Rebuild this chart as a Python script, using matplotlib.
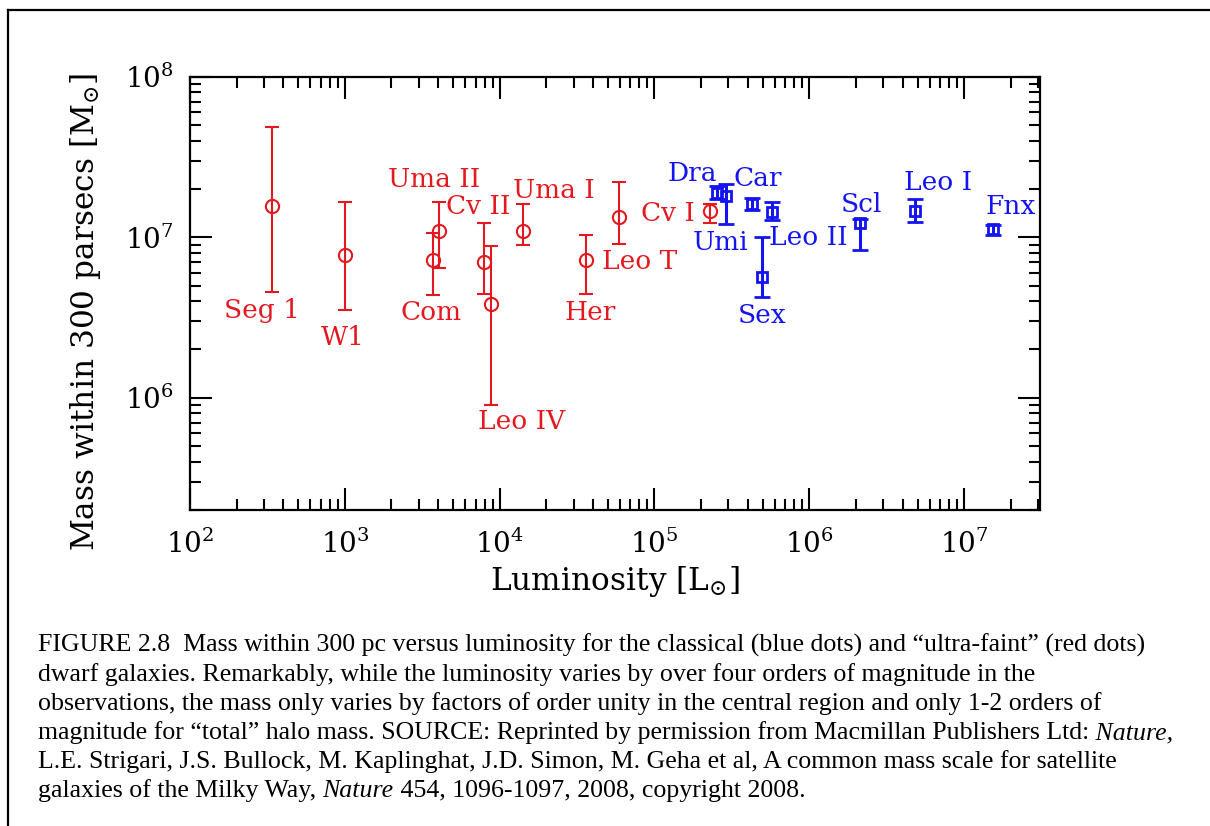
import numpy as np
import matplotlib
matplotlib.use('Agg')
import matplotlib.pyplot as plt
from matplotlib.lines import Line2D

plt.rcParams['font.family'] = 'DejaVu Serif'
plt.rcParams['mathtext.fontset'] = 'dejavuserif'

red = '#e3191f'
blue = '#1414f0'

# ultra-faint dwarfs (red circles)
uf_names = ['Seg 1', 'W1', 'Com', 'Uma II', 'Cv II', 'Leo IV', 'Uma I', 'Her', 'Leo T', 'Cv I']
uf_lum = [340, 1.0e3, 3.72e3, 4.05e3, 7.9e3, 8.73e3, 1.41e4, 3.59e4, 5.89e4, 2.28e5]
uf_mass = [1.57e7, 7.7e6, 7.17e6, 1.09e7, 6.98e6, 3.85e6, 1.10e7, 7.17e6, 1.34e7, 1.45e7]
uf_hi = [4.84e7, 1.65e7, 1.07e7, 1.65e7, 1.23e7, 8.88e6, 1.60e7, 1.04e7, 2.2e7, 1.62e7]
uf_lo = [4.54e6, 3.51e6, 4.38e6, 6.44e6, 4.46e6, 9.04e5, 8.9e6, 4.44e6, 9.14e6, 1.23e7]
uf_lab_x = [290, 966, 3.63e3, 3.78e3, 7.31e3, 1.39e4, 2.23e4, 3.86e4, 8.07e4, 1.22e5]
uf_lab_y = [3.5e6, 2.39e6, 3.38e6, 2.29e7, 1.56e7, 7.14e5, 1.95e7, 3.38e6, 7.08e6, 1.41e7]

# classical dwarfs (blue squares)
cl_names = ['Dra', 'Umi', 'Car', 'Sex', 'Leo II', 'Scl', 'Leo I', 'Fnx']
cl_lum = [2.55e5, 2.88e5, 4.24e5, 4.96e5, 5.77e5, 2.14e6, 4.79e6, 1.53e7]
cl_mass = [1.89e7, 1.80e7, 1.61e7, 5.66e6, 1.44e7, 1.23e7, 1.45e7, 1.12e7]
cl_hi = [2.08e7, 2.16e7, 1.76e7, 1.0e7, 1.66e7, 1.30e7, 1.72e7, 1.20e7]
cl_lo = [1.72e7, 1.21e7, 1.47e7, 4.26e6, 1.28e7, 8.3e6, 1.25e7, 1.03e7]
cl_lab_x = [1.76e5, 2.66e5, 4.63e5, 4.99e5, 9.9e5, 2.18e6, 6.81e6, 2.0e7]
cl_lab_y = [2.48e7, 9.31e6, 2.31e7, 3.25e6, 9.9e6, 1.60e7, 2.20e7, 1.56e7]

caption = [
    [('FIGURE 2.8  Mass within 300 pc versus luminosity for the classical (blue dots) and \u201cultra-faint\u201d (red dots)', 'normal')],
    [('dwarf galaxies. Remarkably, while the luminosity varies by over four orders of magnitude in the', 'normal')],
    [('observations, the mass only varies by factors of order unity in the central region and only 1-2 orders of', 'normal')],
    [('magnitude for \u201ctotal\u201d halo mass. SOURCE: Reprinted by permission from Macmillan Publishers Ltd:', 'normal'),
     (' Nature,', 'italic')],
    [('L.E. Strigari, J.S. Bullock, M. Kaplinghat, J.D. Simon, M. Geha et al, A common mass scale for satellite', 'normal')],
    [('galaxies of the Milky Way, ', 'normal'), ('Nature', 'italic'),
     (' 454, 1096-1097, 2008, copyright 2008.', 'normal')],
]

W, H = 1210, 826
fig = plt.figure(figsize=(W / 100, H / 100), dpi=100)
ax = fig.add_axes([190 / W, 1 - 510 / H, 850 / W, 433.3 / H])

ux = np.array(uf_lum)
uy = np.array(uf_mass)
ax.errorbar(ux, uy, yerr=[uy - np.array(uf_lo), np.array(uf_hi) - uy], fmt='o',
            mfc='none', mec=red, mew=1.5, ms=9.5, ecolor=red, elinewidth=1.5,
            capsize=5, capthick=1.5)

cx = np.array(cl_lum)
cy = np.array(cl_mass)
ax.errorbar(cx, cy, yerr=[cy - np.array(cl_lo), np.array(cl_hi) - cy], fmt='s',
            mfc='none', mec=blue, mew=2, ms=7, ecolor=blue, elinewidth=2.2,
            capsize=6, capthick=2.2)

for name, x, y in zip(uf_names, uf_lab_x, uf_lab_y):
    ax.text(x, y, name, color=red, fontsize=19, ha='center', va='center')
for name, x, y in zip(cl_names, cl_lab_x, cl_lab_y):
    ax.text(x, y, name, color=blue, fontsize=19, ha='center', va='center')

ax.set_xscale('log')
ax.set_yscale('log')
ax.set_xlim(1e2, 10 ** 7.49)
ax.set_ylim(2e5, 1e8)

for s in ax.spines.values():
    s.set_linewidth(1.6)
ax.tick_params(which='both', direction='in', top=True, right=True, width=1.5)
ax.tick_params(which='major', length=16, labelsize=20)
ax.tick_params(which='minor', length=8)
ax.tick_params(axis='x', which='major', pad=14)
ax.tick_params(axis='y', which='major', pad=12)

ax.set_xlabel(r'Luminosity $[\mathrm{L}_{\odot}]$', fontsize=22.5, labelpad=4)
fig.text(86 / W, 1 - 312 / H, r'Mass within 300 parsecs $[\mathrm{M}_{\odot}]$',
         fontsize=22.5, rotation=90, ha='center', va='center')

# caption lines
fig.canvas.draw()
r = fig.canvas.get_renderer()
for i, segs in enumerate(caption):
    x = 38 / W
    y = 1 - (652 + 29 * i) / H
    for txt, style in segs:
        t = fig.text(x, y, txt, family='Liberation Serif', style=style,
                     fontsize=18.6, ha='left', va='baseline')
        bb = t.get_window_extent(renderer=r)
        x = bb.x1 / fig.bbox.width

# outer frame (top and left edges)
fig.add_artist(Line2D([8 / W, 1], [1 - 10 / H, 1 - 10 / H], transform=fig.transFigure,
                      color='black', lw=1.6))
fig.add_artist(Line2D([8 / W, 8 / W], [0, 1 - 10 / H], transform=fig.transFigure,
                      color='black', lw=1.6))

fig.savefig('out.png', dpi=100)
